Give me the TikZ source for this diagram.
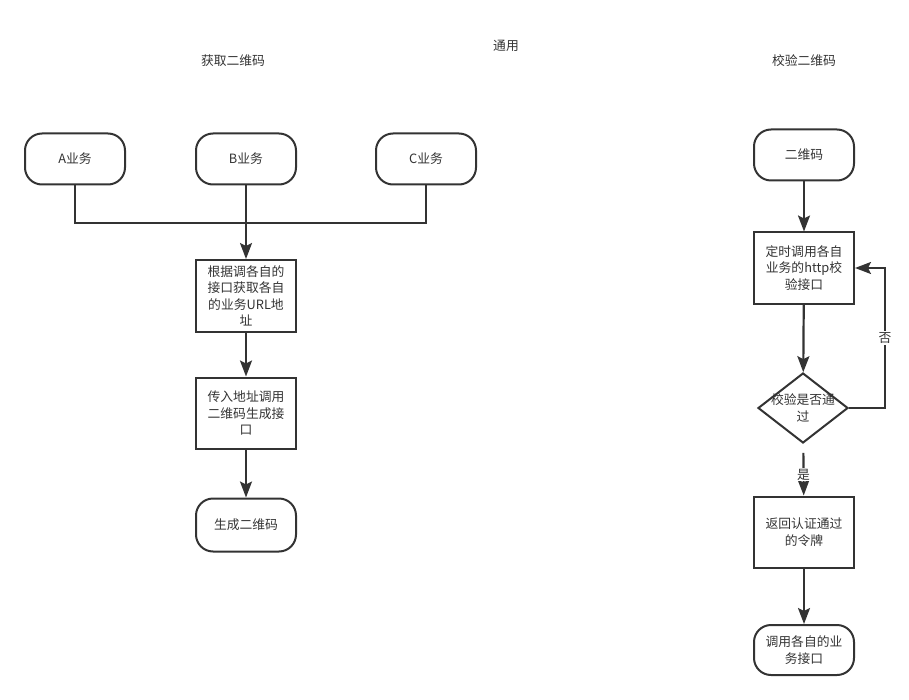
\documentclass[tikz,border=0pt]{standalone}
\usepackage{fontspec}
\setmainfont{Noto Sans CJK SC}
\usetikzlibrary{arrows.meta,positioning,shapes.geometric}
\definecolor{ink}{HTML}{333333}

\begin{document}
\begin{tikzpicture}[x=1pt,y=-1pt,
    every node/.style={font=\fontsize{12.8}{16.5}\selectfont, text=ink},
    term/.style={draw=ink, line width=2pt, rounded corners=17pt, minimum width=100pt, minimum height=51pt, align=center, inner sep=0pt},
    proc/.style={draw=ink, line width=2pt, minimum width=100pt, minimum height=71pt, align=center, inner sep=0pt},
    dia/.style={draw=ink, line width=2pt, diamond, minimum width=90pt, minimum height=70pt, inner sep=0pt},
    link/.style={draw=ink, line width=2.2pt},
    arr/.style={link, -{Stealth[length=16pt,width=12pt,inset=3pt]}}]
    \useasboundingbox (0,0) rectangle (909,700);
    % titles
    \node (ttlL) at (233,61) {获取二维码};
    \node (ttlM) at (506,46) {通用};
    \node (ttlR) at (804,61) {校验二维码};
    % left flow: get the code
    \node[term] (bizA) at (75,159) {A业务};
    \node[term] (bizB) at (246,159) {B业务};
    \node[term] (bizC) at (426,159) {C业务};
    \coordinate (bus) at (0,223);
    \node[proc, minimum height=72pt] (fetch) at (246,296) {根据调各自的\\接口获取各自\\的业务URL地\\址};
    \node[proc] (gen) at (246,413) {传入地址调用\\二维码生成接\\口};
    \node[term, minimum height=53pt] (done) at (246,525) {生成二维码};
    \draw[link] (bizA.south) -- (bizA.south |- bus) -- (bizC.south |- bus) -- (bizC.south);
    \draw[arr] (bizB) -- (fetch);
    \draw[arr] (fetch) -- (gen);
    \draw[arr] (gen) -- (done);
    % right flow: check the code
    \node[term] (code) at (804,155) {二维码};
    \node[proc] (poll) at (804,268) {定时调用各自\\业务的http校\\验接口};
    \node[dia, label={[align=center]center:校验是否通\\过}] (check) at (803,408) {};
    \node[proc] (token) at (804,532) {返回认证通过\\的令牌};
    \node[term, minimum height=50pt] (call) at (804,650) {调用各自的业\\务接口};
    \draw[arr] (code) -- (poll);
    \draw[arr] (poll) -- (check);
    \draw[arr] (check.east) -- ++(36,0) |- (poll.east) node[pos=0.25, fill=white, inner sep=1pt] {否};
    \draw[arr, shorten <=9pt] (check) -- node[pos=0.6, fill=white, inner sep=1pt] {是} (token);
    \draw[arr] (token) -- (call);
\end{tikzpicture}
\end{document}
